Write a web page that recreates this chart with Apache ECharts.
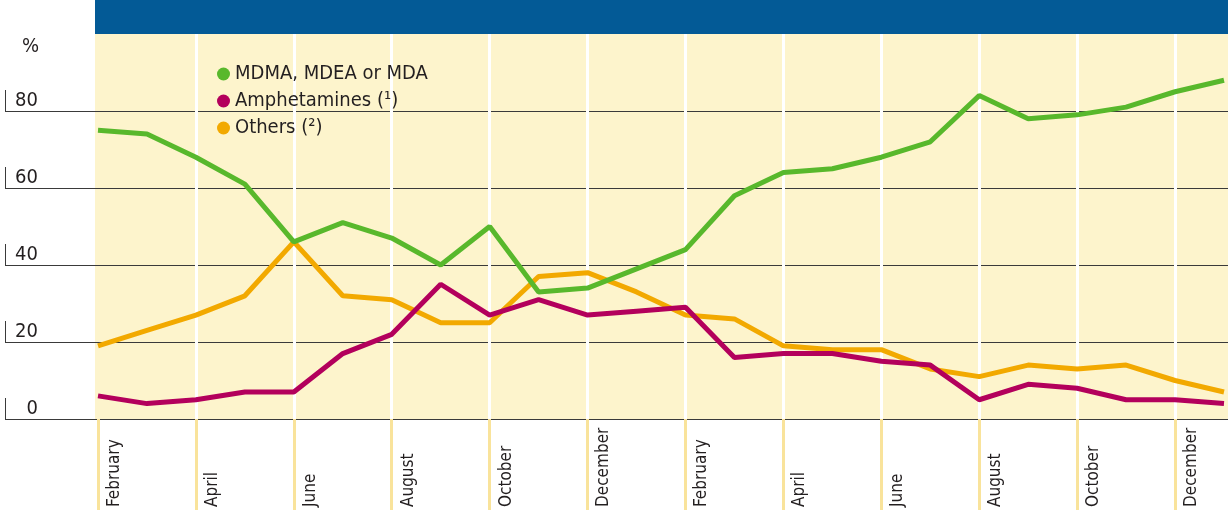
<!DOCTYPE html>
<html>
<head>
<meta charset="utf-8">
<title>Ecstasy tablet contents</title>
<script src="https://cdn.jsdelivr.net/npm/echarts@6/dist/echarts.min.js"></script>
<style>
  html, body { margin: 0; padding: 0; background: #ffffff; }
  #chart { width: 1228px; height: 510px; }
</style>
</head>
<body>
<div id="chart"></div>
<script>
// Months covered (February of year one through January of year three)
const months = [
  'February', 'March', 'April', 'May', 'June', 'July', 'August', 'September',
  'October', 'November', 'December', 'January',
  'February', 'March', 'April', 'May', 'June', 'July', 'August', 'September',
  'October', 'November', 'December', 'January'
];

// Share of tablets (%) by content
const mdma = [75, 74, 68, 61, 46, 51, 47, 40, 50, 33, 34, 39,
              44, 58, 64, 65, 68, 72, 84, 78, 79, 81, 85, 88];
const amphetamines = [6, 4, 5, 7, 7, 17, 22, 35, 27, 31, 27, 28,
                      29, 16, 17, 17, 15, 14, 5, 9, 8, 5, 5, 4];
const others = [19, 23, 27, 32, 46, 32, 31, 25, 25, 37, 38, 33,
                27, 26, 19, 18, 18, 13, 11, 14, 13, 14, 10, 7];

// Value axis ticks
const yTicks = [0, 20, 40, 60, 80];

const seriesNames = ['MDMA, MDEA or MDA', 'Amphetamines (\u00B9)', 'Others (\u00B2)'];

const FONT = "'DejaVu Sans Condensed', 'Liberation Sans Narrow', 'Arial Narrow', sans-serif";
const TEXT = '#231f20';
const GREEN = '#58b82c';
const MAGENTA = '#b3005c';
const ORANGE = '#f2a900';

const chart = echarts.init(document.getElementById('chart'), null, { renderer: 'canvas' });

chart.setOption({
  animation: false,
  backgroundColor: '#ffffff',
  textStyle: { fontFamily: FONT },
  title: {
    text: '%',
    left: 17,
    top: 32,
    textStyle: { fontFamily: FONT, fontSize: 20, fontWeight: 'normal', color: TEXT }
  },
  graphic: [
    { type: 'rect', z: -10, shape: { x: 95, y: 0, width: 1133, height: 34 }, style: { fill: '#035a96' } },
    { type: 'rect', z: -10, shape: { x: 95, y: 34, width: 1133, height: 385 }, style: { fill: '#fdf4cc' } }
  ],
  legend: {
    data: seriesNames,
    orient: 'vertical',
    left: 212,
    top: 59,
    itemGap: 7,
    icon: 'circle',
    itemWidth: 13,
    itemHeight: 13,
    textStyle: { fontFamily: FONT, fontSize: 20, lineHeight: 20, color: TEXT }
  },
  grid: [
    // plotting area for the three lines
    { left: 98, right: 4, top: 34, bottom: 91 },
    // full-width frame carrying the horizontal rules and value labels
    { left: 5, right: 0, top: 34, bottom: 91 }
  ],
  xAxis: [
    {
      type: 'category',
      gridIndex: 0,
      data: months,
      boundaryGap: false,
      axisLine: { show: false },
      axisTick: {
        show: true,
        interval: (i) => i % 2 === 0,
        length: 91,
        lineStyle: { color: '#f9e39b', width: 3 }
      },
      splitLine: {
        show: true,
        interval: (i) => i % 2 === 0 && i > 0,
        lineStyle: { color: '#ffffff', width: 3 }
      },
      axisLabel: {
        interval: 1,
        rotate: 90,
        margin: 88,
        align: 'left',
        verticalAlign: 'top',
        lineHeight: 33,
        fontFamily: FONT,
        fontSize: 17,
        color: TEXT
      }
    },
    {
      type: 'value',
      gridIndex: 1,
      min: 0,
      max: 1,
      show: false
    }
  ],
  yAxis: [
    {
      type: 'value',
      gridIndex: 0,
      min: 0,
      max: 100,
      interval: 20,
      show: false
    },
    {
      type: 'value',
      gridIndex: 1,
      min: 0,
      max: 100,
      interval: 20,
      axisLine: { show: false },
      axisTick: { show: false },
      splitLine: {
        show: true,
        showMaxLine: false,
        lineStyle: { color: '#3a3a3a', width: 1.2 }
      },
      axisLabel: {
        inside: true,
        margin: 33,
        align: 'right',
        verticalAlign: 'bottom',
        fontFamily: FONT,
        fontSize: 20,
        color: TEXT,
        formatter: (v) => (v >= 100 ? '' : String(v))
      }
    }
  ],
  series: [
    {
      // short upright ticks at the left end of each rule
      type: 'custom',
      xAxisIndex: 1,
      yAxisIndex: 1,
      silent: true,
      data: yTicks.map((v) => [0, v]),
      renderItem: (params, api) => {
        const p = api.coord([api.value(0), api.value(1)]);
        return {
          type: 'line',
          shape: { x1: p[0] + 0.5, y1: p[1], x2: p[0] + 0.5, y2: p[1] - 21 },
          style: { stroke: '#3a3a3a', lineWidth: 1 }
        };
      }
    },
    {
      name: seriesNames[2],
      type: 'line',
      data: others,
      showSymbol: false,
      color: ORANGE,
      lineStyle: { width: 5, color: ORANGE },
      z: 3
    },
    {
      name: seriesNames[0],
      type: 'line',
      data: mdma,
      showSymbol: false,
      color: GREEN,
      lineStyle: { width: 5, color: GREEN },
      z: 4
    },
    {
      name: seriesNames[1],
      type: 'line',
      data: amphetamines,
      showSymbol: false,
      color: MAGENTA,
      lineStyle: { width: 5, color: MAGENTA },
      z: 5
    }
  ]
});
</script>
</body>
</html>
